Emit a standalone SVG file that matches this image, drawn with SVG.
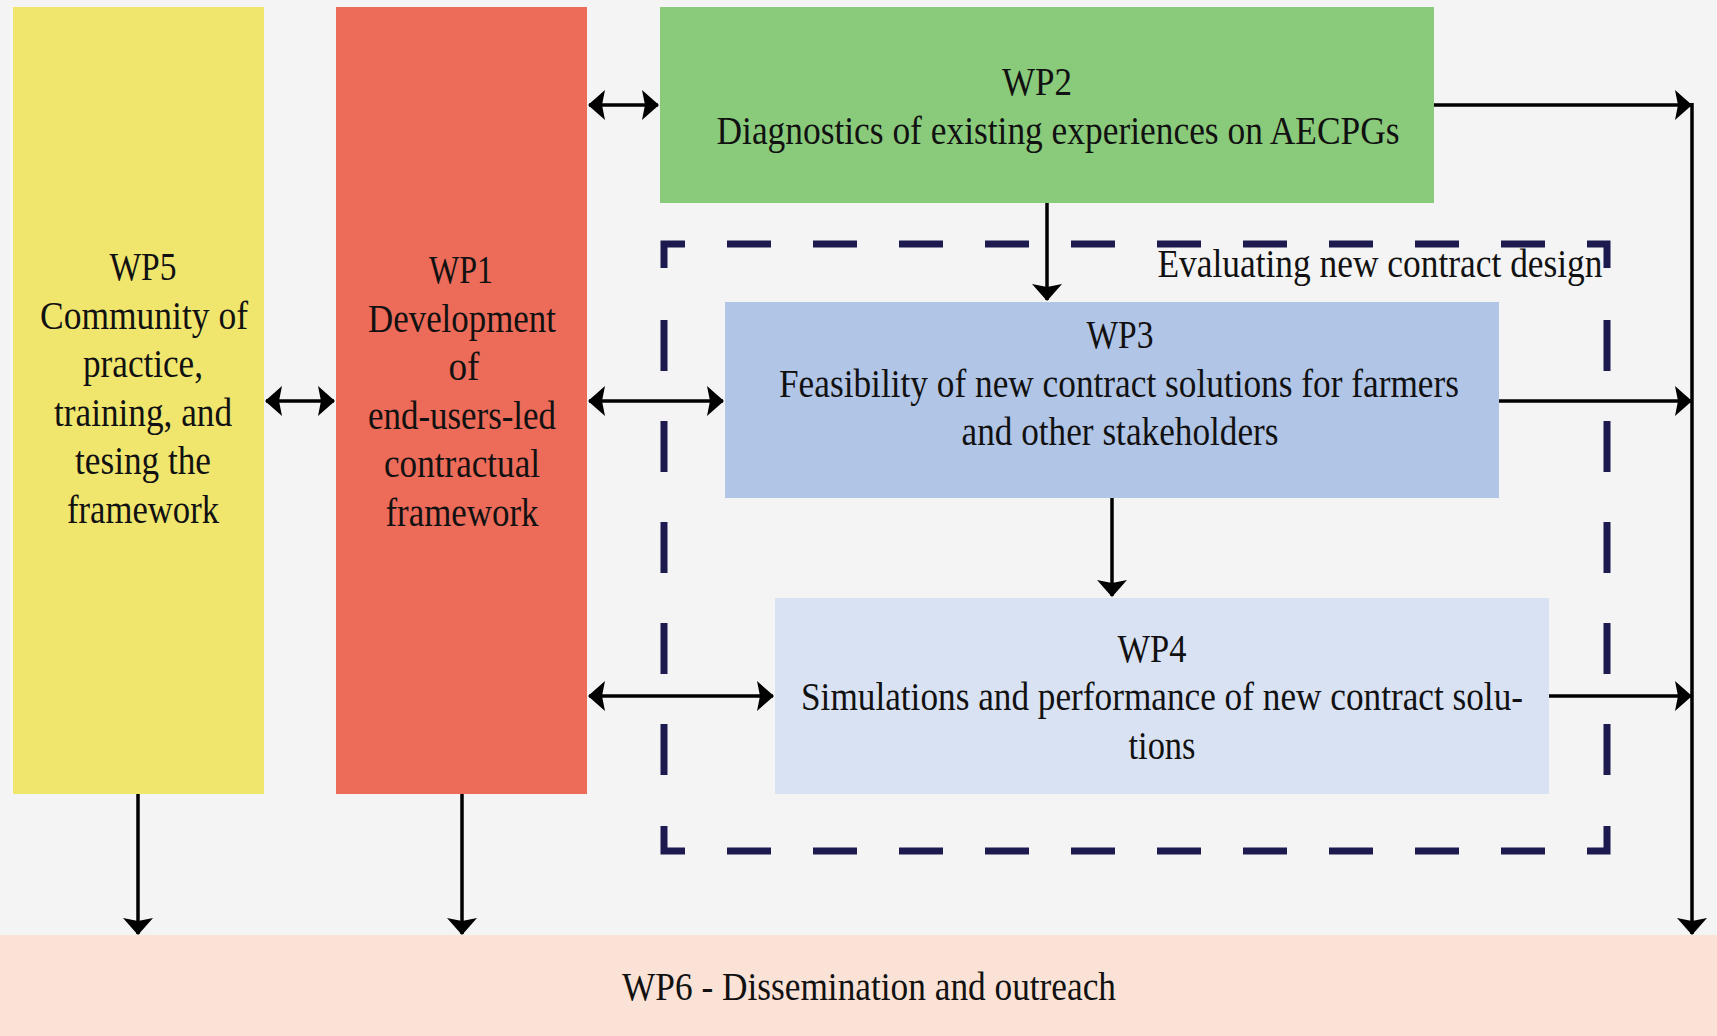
<svg xmlns="http://www.w3.org/2000/svg" width="1717" height="1036" viewBox="0 0 1717 1036">
<style>
text{font-family:"Liberation Serif","Times New Roman",serif;font-size:40px;fill:#111;text-anchor:middle}
.c{stroke:#000;stroke-width:3.5;fill:none}
.d{stroke:#1c1a4e;stroke-width:7;fill:none}
</style>
<defs>
<marker id="ah" markerUnits="userSpaceOnUse" markerWidth="18" markerHeight="30" refX="16" refY="15" orient="auto-start-reverse" viewBox="0 0 18 30">
<path d="M0,0 L17,15 L0,30 L3,15 z" fill="#000"/>
</marker>
</defs>
<rect width="1717" height="1036" fill="#f4f4f4"/>
<g id="wp6"><rect x="0" y="935" width="1717" height="101" fill="#fae3d6"/>
<text x="869" y="1000" textLength="494" lengthAdjust="spacingAndGlyphs">WP6 - Dissemination and outreach</text></g>
<g id="wp5"><rect x="13" y="7" width="251" height="787" fill="#f0e66e"/>
<text x="143" y="280" textLength="67" lengthAdjust="spacingAndGlyphs">WP5</text>
<text x="144" y="328.5" textLength="208" lengthAdjust="spacingAndGlyphs">Community of</text>
<text x="143" y="377" textLength="120" lengthAdjust="spacingAndGlyphs">practice,</text>
<text x="143" y="425.5" textLength="178" lengthAdjust="spacingAndGlyphs">training, and</text>
<text x="143" y="474" textLength="136" lengthAdjust="spacingAndGlyphs">tesing the</text>
<text x="143" y="522.5" textLength="152" lengthAdjust="spacingAndGlyphs">framework</text></g>
<g id="wp1"><rect x="336" y="7" width="251" height="787" fill="#ec6b59"/>
<text x="461" y="283" textLength="64" lengthAdjust="spacingAndGlyphs">WP1</text>
<text x="462" y="332" textLength="188" lengthAdjust="spacingAndGlyphs">Development</text>
<text x="464" y="380" textLength="31" lengthAdjust="spacingAndGlyphs">of</text>
<text x="462" y="429" textLength="188" lengthAdjust="spacingAndGlyphs">end-users-led</text>
<text x="462" y="477" textLength="156" lengthAdjust="spacingAndGlyphs">contractual</text>
<text x="462" y="526" textLength="153" lengthAdjust="spacingAndGlyphs">framework</text></g>
<g id="wp2"><rect x="660" y="7" width="774" height="196" fill="#8aca7b"/>
<text x="1037" y="95" textLength="70" lengthAdjust="spacingAndGlyphs">WP2</text>
<text x="1058" y="144" textLength="683" lengthAdjust="spacingAndGlyphs">Diagnostics of existing experiences on AECPGs</text></g>
<g id="group-evaluating">
<path class="d" d="M664,268 V244 H685"/>
<path class="d" d="M1587,244 H1607 V268"/>
<path class="d" d="M664,826 V851 H685"/>
<path class="d" d="M1587,851 H1607 V826"/>
<path class="d" d="M727,244 H1545" stroke-dasharray="44 42"/>
<path class="d" d="M727,851 H1545" stroke-dasharray="44 42"/>
<path class="d" d="M664,320 V777" stroke-dasharray="51 50"/>
<path class="d" d="M1607,320 V777" stroke-dasharray="51 50"/>
<text x="1380" y="277" textLength="445" lengthAdjust="spacingAndGlyphs">Evaluating new contract design</text></g>
<g id="wp3"><rect x="725" y="302" width="774" height="196" fill="#b1c5e7"/>
<text x="1120" y="348" textLength="67" lengthAdjust="spacingAndGlyphs">WP3</text>
<text x="1119" y="397" textLength="680" lengthAdjust="spacingAndGlyphs">Feasibility of new contract solutions for farmers</text>
<text x="1120" y="445" textLength="317" lengthAdjust="spacingAndGlyphs">and other stakeholders</text></g>
<g id="wp4"><rect x="775" y="598" width="774" height="196" fill="#d9e2f3"/>
<text x="1152" y="662" textLength="69" lengthAdjust="spacingAndGlyphs">WP4</text>
<text x="1162" y="710" textLength="722" lengthAdjust="spacingAndGlyphs">Simulations and performance of new contract solu-</text>
<text x="1162" y="759" textLength="67" lengthAdjust="spacingAndGlyphs">tions</text></g>
<g id="connectors">
<path class="c" d="M589,105 H658" marker-start="url(#ah)" marker-end="url(#ah)"/>
<path class="c" d="M266,401 H334" marker-start="url(#ah)" marker-end="url(#ah)"/>
<path class="c" d="M589,401 H723" marker-start="url(#ah)" marker-end="url(#ah)"/>
<path class="c" d="M589,696 H773" marker-start="url(#ah)" marker-end="url(#ah)"/>
<path class="c" d="M1047,203 V300" marker-end="url(#ah)"/>
<path class="c" d="M1112,498 V596" marker-end="url(#ah)"/>
<path class="c" d="M1434,105 H1691" marker-end="url(#ah)"/>
<path class="c" d="M1499,401 H1691" marker-end="url(#ah)"/>
<path class="c" d="M1549,696 H1691" marker-end="url(#ah)"/>
<path class="c" d="M1692,103 V934" marker-end="url(#ah)"/>
<path class="c" d="M138,794 V934" marker-end="url(#ah)"/>
<path class="c" d="M462,794 V934" marker-end="url(#ah)"/>
</g>
</svg>
